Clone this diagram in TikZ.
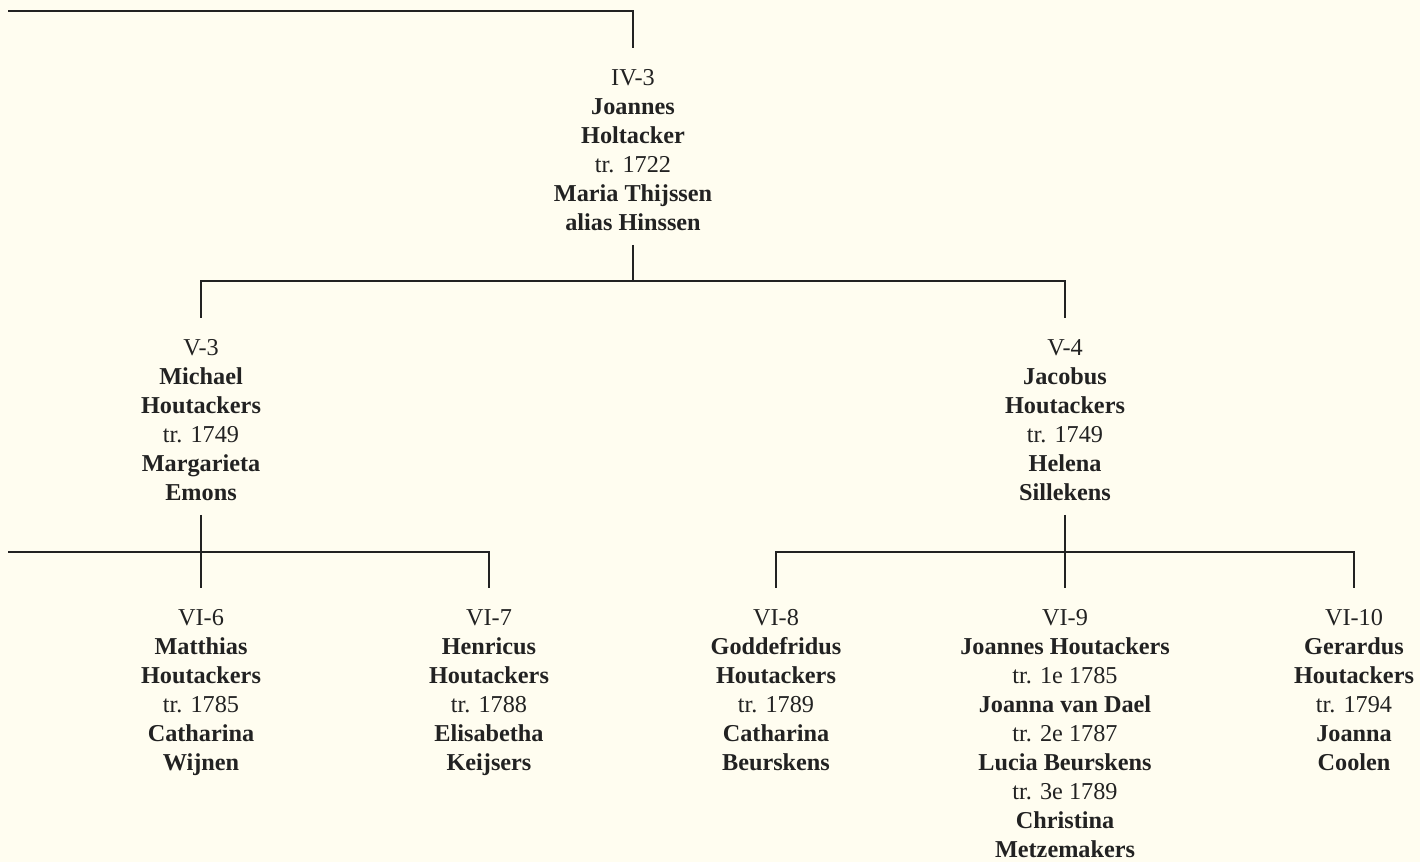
\documentclass[tikz,border=0pt]{standalone}
\usepackage{fontspec}
\setmainfont{Liberation Serif}
\usetikzlibrary{calc}
\definecolor{paper}{HTML}{FFFDF0}
\definecolor{ink}{HTML}{222222}
\newcommand{\nm}[1]{\strut\textbf{#1}}
\newcommand{\pl}[1]{\strut #1}
\begin{document}
\begin{tikzpicture}[x=0.02cm,y=-0.02cm,
  person/.style={anchor=north,align=center,inner xsep=0pt,inner ysep=0.06cm,
    text=ink,font=\fontsize{13.8pt}{16.5pt}\selectfont},
  link/.style={draw=ink,line width=0.8pt},
  down/.style={shorten >=0.28cm},
  up/.style={shorten <=0.05cm}]
\fill[paper] (0,0) rectangle (1420,862);
\useasboundingbox (0,0) rectangle (1420,862);

\node[person] (iv3) at (633,61.7) {\pl{IV-3}\\\nm{Joannes}\\\nm{Holtacker}\\\pl{tr. 1722}\\\nm{Maria Thijssen}\\\nm{alias Hinssen}};

\node[person] (v3) at (201,331.7) {\pl{V-3}\\\nm{Michael}\\\nm{Houtackers}\\\pl{tr. 1749}\\\nm{Margarieta}\\\nm{Emons}};
\node[person] (v4) at (1065,331.7) {\pl{V-4}\\\nm{Jacobus}\\\nm{Houtackers}\\\pl{tr. 1749}\\\nm{Helena}\\\nm{Sillekens}};

\node[person] (vi6) at (201,601.7) {\pl{VI-6}\\\nm{Matthias}\\\nm{Houtackers}\\\pl{tr. 1785}\\\nm{Catharina}\\\nm{Wijnen}};
\node[person] (vi7) at (489,601.7) {\pl{VI-7}\\\nm{Henricus}\\\nm{Houtackers}\\\pl{tr. 1788}\\\nm{Elisabetha}\\\nm{Keijsers}};
\node[person] (vi8) at (776,601.7) {\pl{VI-8}\\\nm{Goddefridus}\\\nm{Houtackers}\\\pl{tr. 1789}\\\nm{Catharina}\\\nm{Beurskens}};
\node[person] (vi9) at (1065,601.7) {\pl{VI-9}\\\nm{Joannes Houtackers}\\\pl{tr. 1e 1785}\\\nm{Joanna van Dael}\\\pl{tr. 2e 1787}\\\nm{Lucia Beurskens}\\\pl{tr. 3e 1789}\\\nm{Christina}\\\nm{Metzemakers}};
\node[person] (vi10) at (1354,601.7) {\pl{VI-10}\\\nm{Gerardus}\\\nm{Houtackers}\\\pl{tr. 1794}\\\nm{Joanna}\\\nm{Coolen}};

\coordinate (tl) at (8,11);
\coordinate (j1) at (633,281);
\coordinate (bl) at (8,552);
\coordinate (j2) at (1065,552);

% top
\draw[link,down] (tl) -| (iv3.north);
% generation IV -> V
\draw[link,up] (iv3.south) -- (j1);
\draw[link,down] (j1) -| (v3.north);
\draw[link,down] (j1) -| (v4.north);
% V-3 -> VI
\draw[link,up,down] (v3.south) -- (vi6.north);
\draw[link,down] (bl) -| (vi7.north);
% V-4 -> VI
\draw[link,up,down] (v4.south) -- (vi9.north);
\draw[link,down] (j2) -| (vi8.north);
\draw[link,down] (j2) -| (vi10.north);
\end{tikzpicture}
\end{document}
